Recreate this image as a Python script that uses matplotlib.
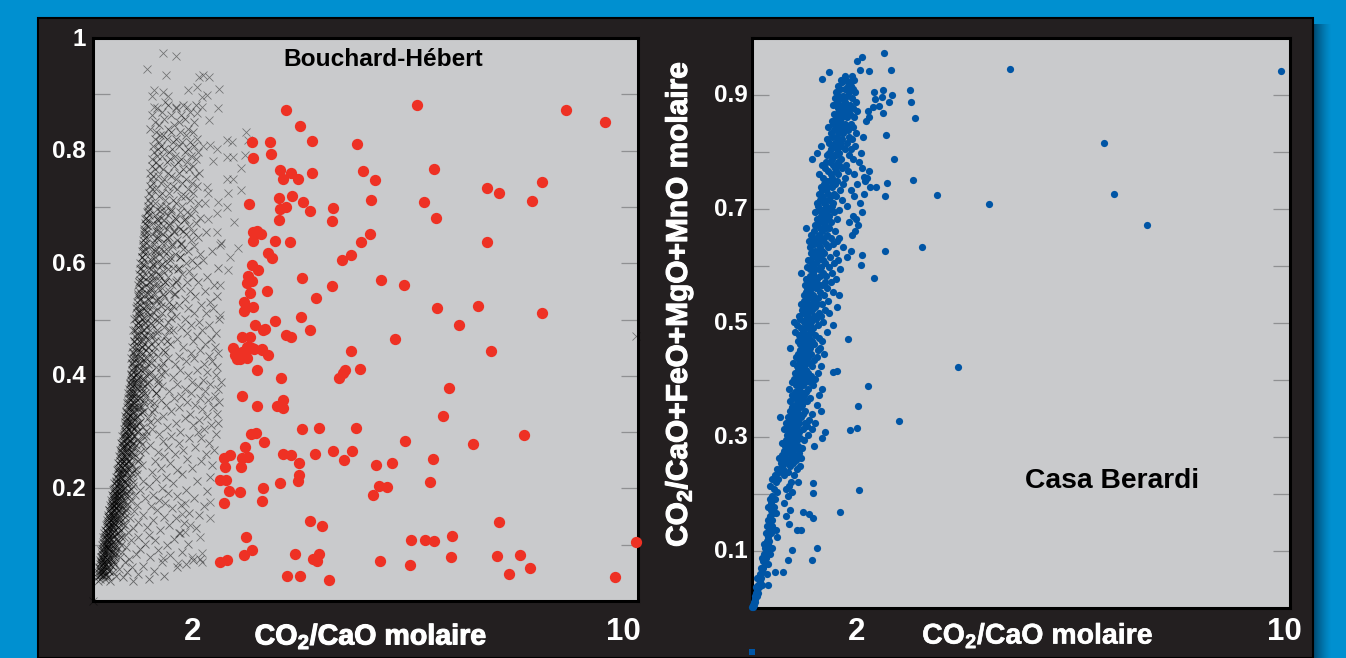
import matplotlib
matplotlib.use('Agg')
import matplotlib.pyplot as plt
from matplotlib.patches import Rectangle
from matplotlib.transforms import ScaledTranslation
import matplotlib.patheffects as pe

# ================= data =================
# Bouchard-Hebert, red dots
red_x = [3.55, 3.79, 4.01, 2.91, 3.24, 2.93, 3.27, 3.44, 3.48, 3.64, 3.76, 4.02, 2.86, 3.42, 3.65, 3.85, 3.98, 3.44, 3.55, 3.42,
         4.40, 4.39, 5.11, 6.08, 6.30, 4.84, 4.95, 5.18, 6.25, 7.23, 7.45, 8.24, 8.06, 5.95, 8.68, 9.40,
         2.93, 3.08, 2.93, 3.00, 3.34, 3.61, 3.21, 3.28, 2.92, 3.03, 2.84, 2.92, 2.82, 3.83, 4.39, 3.19, 2.88, 4.09, 2.77, 2.94, 2.77,
         3.82, 3.34, 2.97, 3.16, 3.99, 2.73, 2.88, 3.12, 3.64, 3.55, 2.92, 3.10, 3.21, 2.57, 2.73, 2.82, 2.84, 2.60, 2.95, 3.10, 2.70, 2.64, 2.83, 3.00,
         5.09, 4.91, 4.74, 4.56, 7.23, 5.29, 5.70, 6.32, 7.07, 8.24, 6.72, 5.55, 7.31, 4.73,
         3.45, 4.51, 4.62, 4.89, 4.58, 6.54, 2.73, 3.01, 3.38, 3.49, 3.48, 6.43,
         3.84, 4.15, 4.82, 2.90, 2.99, 3.14, 2.79, 2.84, 2.73, 2.51, 2.40, 3.49, 3.64, 4.07, 4.40, 4.61, 4.76,
         5.73, 7.91, 6.98, 3.78, 2.72, 2.43, 3.78, 3.76, 3.43, 2.33, 2.44, 3.12, 3.10, 2.50, 2.70, 2.40,
         5.20, 5.49, 6.23, 6.19, 5.24, 5.40, 5.13, 3.98, 4.20, 7.45,
         2.81, 2.92, 2.77, 2.33, 2.46, 3.71, 4.15, 4.04, 4.11, 6.10, 5.84, 6.25, 6.58, 9.96,
         5.27, 5.81, 6.56, 7.42, 7.84, 8.02, 7.64, 9.58, 3.56, 3.80, 4.33]
red_y = [.872, .844, .817, .815, .815, .787, .794, .765, .749, .761, .749, .761, .705, .716, .719, .709, .693, .696, .700, .677,
         .698, .675, .712, .708, .681, .812, .763, .747, .768, .733, .724, .745, .710, .881, .873, .850,
         .655, .652, .639, .657, .639, .637, .618, .609, .597, .588, .578, .569, .565, .573, .560, .551, .547, .539, .531, .522, .515,
         .504, .497, .490, .484, .481, .469, .469, .482, .469, .472, .449, .448, .437, .449, .442, .452, .447, .437, .448, .446, .429, .429, .432, .410,
         .652, .637, .614, .605, .637, .570, .561, .520, .524, .512, .490, .465, .444, .444,
         .396, .396, .411, .412, .405, .379, .364, .347, .346, .357, .343, .329,
         .306, .308, .308, .297, .298, .283, .274, .256, .254, .259, .254, .261, .259, .261, .266, .250, .267,
         .285, .294, .278, .245, .238, .238, .224, .214, .209, .215, .215, .200, .178, .195, .194, .174,
         .241, .246, .253, .211, .204, .202, .188, .142, .133, .140,
         .114, .091, .081, .069, .073, .083, .083, .074, .071, .108, .108, .106, .115, .105,
         .071, .064, .078, .080, .081, .058, .048, .042, .044, .044, .037]

# black crosses: one y level, the x readings at that level
cross_levels = [
    .036, .039, .042, .045, .048, .051, .054, .057, .060, .063, .066, .069, .072, .075, .078, .081, .084, .087, .090, .093,
    .096, .099, .102, .105, .108, .111, .114, .117, .120, .123, .126, .129, .132, .135, .138, .141, .144, .147, .150, .153,
    .156, .159, .162, .165, .168, .171, .174, .177, .180, .183, .186, .189, .192, .195, .198, .201, .205, .209, .213, .217,
    .221, .225, .229, .233, .237, .241, .245, .249, .253, .257, .261, .265, .269, .273, .277, .281, .285, .289, .293, .297,
    .301, .305, .309, .313, .317, .321, .325, .329, .333, .337, .341, .345, .349, .353, .357, .361, .365, .369, .373, .377,
    .381, .385, .389, .393, .397, .401, .406, .411, .416, .421, .426, .431, .436, .441, .446, .451, .456, .461, .466, .471,
    .476, .481, .486, .491, .496, .501, .506, .511, .516, .521, .526, .531, .536, .541, .546, .551, .556, .561, .566, .571,
    .576, .581, .586, .591, .596, .601, .606, .611, .616, .621, .626, .631, .636, .641, .646, .651, .656, .661, .666, .671,
    .676, .681, .686, .691, .696, .701, .707, .713, .719, .725, .731, .737, .743, .749, .755, .761, .767, .773, .779, .785,
    .791, .797, .803, .809, .815, .821, .827, .833, .839, .845, .851, .857, .863, .869, .875, .881,
]
cross_x_rows = [
    [.09, .31, .74], [.13, .22, 1.02], [.08, .27, .55], [.11, .19, .43, 1.31], [.14, .24, .83], [.10, .17, .36, .62], [.12, .29, 1.12], [.16, .21, .48], [.11, .26, .71, 1.55], [.18, .34, .92],
    [.13, .23, .41, 1.71], [.15, .20, .58, 1.27], [.12, .28, .37, 1.84], [.17, .25, .66, 1.96], [.14, .31, .49, 1.05], [.19, .22, .40, 1.42], [.16, .27, .78], [.21, .35, .54, 1.63], [.15, .24, .44, 1.20], [.18, .30, .87],
    [.20, .26, .39, .61], [.17, .33, .52, 1.36], [.23, .29, .95, 1.74], [.19, .37, .47], [.21, .27, .70, 1.14], [.25, .34, .43, 1.48], [.18, .30, .56, .82], [.23, .38, 1.03], [.20, .28, .46, 1.58], [.26, .33, .64],
    [.22, .41, .51, 1.23], [.25, .31, .74, 1.89], [.28, .36, .45, .99], [.23, .34, .59, 1.40], [.27, .39, .48, 1.67], [.30, .35, .83], [.25, .43, .54, 1.11], [.29, .37, .68, 1.52], [.32, .41, .50, 1.30], [.27, .36, .91, 1.94],
    [.31, .44, .57, 1.77], [.34, .39, .75], [.29, .47, .53, 1.18], [.33, .42, .62, 1.45], [.36, .38, .50, 1.06, 2.04], [.31, .45, .80, 1.61], [.35, .41, .56, 1.33], [.38, .48, .69], [.33, .43, .53, 1.22], [.37, .46, .96, 1.85],
    [.40, .51, .60, 1.54], [.35, .44, .77, 1.10], [.39, .49, .55, 1.38], [.42, .47, .66, 2.09], [.37, .53, .86, 1.70], [.41, .50, .58, 1.26], [.44, .54, .73, 1.02], [.39, .48, .63, 1.47], [.43, .57, .92, 1.90], [.46, .52, .60, 1.16],
    [.42, .51, .69, 1.34, 2.14], [.45, .56, .81, 1.64], [.48, .54, .62, 1.08], [.44, .59, .75, 1.55], [.47, .53, .66, 1.24, 1.81], [.50, .57, .90, 2.18], [.46, .61, .70, 1.41], [.49, .55, .64, 1.13, 1.98], [.52, .60, .84, 1.72], [.48, .58, .67, 1.31],
    [.51, .63, .76, 1.50, 2.07], [.54, .59, .71, 1.19], [.50, .62, .95, 1.66, 2.22], [.53, .57, .69, 1.37, 1.88], [.56, .65, .79, 1.04], [.52, .61, .73, 1.57, 2.12], [.55, .68, .87, 1.28], [.58, .63, .74, 1.77, 1.99], [.54, .66, .98, 1.44], [.57, .60, .71, 1.21, 2.25],
    [.59, .69, .80, 1.60, 1.92], [.56, .64, .75, 1.09, 2.03], [.61, .72, .92, 1.35], [.58, .67, .78, 1.83, 2.16], [.62, .70, .84, 1.52, 2.30], [.60, .65, .76, 1.17, 1.95], [.63, .73, 1.00, 1.68], [.59, .68, .81, 1.29, 2.09], [.64, .71, .87, 1.78, 2.27], [.61, .75, .94, 1.43],
    [.66, .69, .82, 1.12, 2.00], [.63, .77, .90, 1.58, 2.20], [.67, .72, .85, 1.34, 1.87], [.64, .74, 1.05, 1.73, 2.32], [.68, .80, .93, 1.25, 2.11], [.65, .71, .84, 1.49, 1.97], [.69, .76, .98, 1.62, 2.24], [.67, .79, .88, 1.15, 1.80], [.70, .73, .91, 1.39, 2.05], [.66, .82, 1.08, 1.69, 2.30],
    [.71, .77, .95, 1.27, 1.93], [.68, .84, .89, 1.54, 2.15], [.72, .75, 1.02, 1.82, 2.34], [.70, .80, .92, 1.20, 2.01], [.73, .86, 1.12, 1.46], [.69, .78, .97, 1.75, 2.25], [.74, .83, 1.06, 1.33, 2.10], [.71, .88, .94, 1.60, 1.90], [.75, .81, 1.16, 1.24, 2.28], [.72, .85, 1.00, 1.51, 2.03],
    [.76, .90, .96, 1.71, 2.19], [.70, .79, 1.09, 1.37, 1.86], [.77, .87, 1.20, 1.57, 2.12], [.74, .92, 1.03, 1.79, 2.30], [.78, .83, .98, 1.29, 1.96], [.72, .89, 1.14, 1.66, 2.23], [.79, .94, 1.06, 1.42, 2.06], [.75, .85, 1.25, 1.84], [.80, .91, 1.00, 1.55, 2.17], [.77, .96, 1.11, 1.33, 1.91],
    [.81, .88, 1.18, 1.73, 2.26], [.74, .93, 1.04, 1.47, 2.00], [.82, .98, 1.30, 1.62], [.78, .86, 1.08, 1.80, 2.13], [.83, .95, 1.21, 1.38, 1.94], [.76, .90, 1.13, 1.69, 2.32], [.84, 1.00, 1.06, 1.52], [.80, .87, 1.26, 1.85, 2.08], [.85, .97, 1.16, 1.43], [.79, .92, 1.35, 1.75, 2.21],
    [.86, 1.03, 1.10, 1.58, 1.98], [.81, .94, 1.23, 1.40, 2.15], [.87, 1.00, 1.19, 1.68], [.83, 1.06, 1.31, 1.88, 2.27], [.88, .96, 1.14, 1.49], [.85, 1.02, 1.40, 1.78, 2.05], [.89, 1.09, 1.26, 1.61], [.82, .98, 1.17, 1.45, 2.22], [.90, 1.05, 1.33, 1.72, 1.92], [.86, 1.12, 1.22, 1.55],
    [.91, 1.00, 1.38, 1.84, 2.10], [.84, 1.07, 1.20, 1.64], [.92, 1.15, 1.29, 1.76], [.88, 1.03, 1.47, 1.58, 2.30], [.93, 1.10, 1.25, 1.90], [.87, 1.18, 1.35, 1.70], [.94, 1.06, 1.42, 1.82, 2.02], [.90, 1.13, 1.28, 1.59], [.95, 1.21, 1.51, 1.96], [.89, 1.09, 1.37, 1.74, 2.18],
    [.96, 1.16, 1.24, 1.66], [.92, 1.04, 1.45, 1.86], [.97, 1.26, 1.32, 1.62, 2.34], [.91, 1.12, 1.54, 1.79], [.98, 1.19, 1.39, 1.93], [.94, 1.08, 1.29, 1.71], [.99, 1.23, 1.48, 1.84, 2.08], [.93, 1.15, 1.35, 1.60], [1.00, 1.28, 1.56, 1.76], [.96, 1.11, 1.42, 1.89],
    [1.01, 1.20, 1.31, 1.67], [.97, 1.24, 1.50, 1.97], [1.02, 1.14, 1.38, 1.80], [.99, 1.30, 1.59, 1.72], [1.03, 1.18, 1.44, 1.86], [1.00, 1.25, 1.34, 1.64], [1.05, 1.13, 1.53, 1.92], [1.01, 1.33, 1.47, 1.78], [1.07, 1.21, 1.61, 1.69], [1.03, 1.27, 1.40, 1.83],
    [1.08, 1.16, 1.55, 1.74], [1.04, 1.36, 1.46, 1.90], [1.10, 1.24, 1.63, 1.81], [1.06, 1.31, 1.52, 1.70], [1.11, 1.19, 1.43, 1.87], [1.05, 1.38, 1.58, 1.94], [1.13, 1.28, 1.66, 1.77], [1.08, 1.22, 1.49, 1.84], [1.15, 1.35, 1.56, 1.72], [1.09, 1.42, 1.62, 1.89],
    [1.17, 1.26, 1.51, 1.80], [1.12, 1.39, 1.68, 1.93], [1.19, 1.31, 1.45, 1.75], [1.10, 1.24, 1.57, 1.86], [1.21, 1.47, 1.64, 1.78], [1.14, 1.36, 1.53, 1.90], [1.23, 1.29, 1.70], [1.16, 1.43, 1.60, 1.83],
    [1.05, 1.37, 1.74], [1.22, 1.49], [1.13, 1.58, 1.86], [1.31, 1.69], [1.09, 1.44, 1.62], [1.26, 1.78], [1.18, 1.53], [1.38, 1.66, 1.89],
]
# the darker wedge of the cloud, second pass of readings
core_levels = [
    .047, .053, .058, .064, .069, .074, .079, .085, .091, .096, .102, .108, .113, .119, .124, .131, .137, .143, .149, .154,
    .161, .167, .173, .179, .186, .192, .199, .206, .212, .219, .227, .234, .241, .249, .256, .264, .271, .278, .286, .293,
    .302, .311, .318, .327, .335, .344, .352, .361, .369, .378, .387, .396, .404, .413, .423, .432, .442, .451, .461, .472,
    .482, .493, .503, .514, .524, .534, .545, .556, .566, .577, .589, .599, .611, .622, .634, .645, .657, .668, .679, .692,
]
core_x_rows = [
    [.12, .18, .24], [.15, .21, .29], [.11, .19, .26], [.17, .23, .33], [.14, .20, .28, .36], [.18, .25, .31], [.16, .22, .38], [.21, .27, .34, .41], [.19, .30, .36], [.23, .28, .43],
    [.20, .26, .33, .40], [.25, .31, .46], [.22, .29, .37, .52], [.27, .35, .42], [.24, .32, .39, .49], [.29, .36, .45], [.26, .34, .41, .55], [.31, .38, .47], [.28, .37, .44, .58], [.33, .40, .51],
    [.30, .39, .46, .61], [.35, .43, .53], [.34, .42, .49, .63], [.38, .45, .57], [.36, .44, .52, .66], [.41, .48, .60], [.39, .47, .55, .70], [.43, .50, .62], [.42, .49, .58, .74], [.45, .54, .66],
    [.47, .53, .61, .72], [.46, .56, .64, .78], [.50, .58, .69], [.49, .57, .66, .82], [.53, .60, .73], [.52, .62, .70, .86], [.55, .64, .76], [.54, .63, .72, .89], [.58, .67, .80], [.57, .66, .75, .92],
    [.60, .69, .83, .98], [.62, .71, .79], [.59, .68, .86, 1.04], [.64, .73, .81], [.61, .72, .90, 1.08], [.66, .76, .84], [.63, .75, .93, 1.12], [.68, .78, .87], [.65, .74, .96, 1.16], [.70, .80, .89],
    [.67, .79, .99, 1.20], [.72, .82, .92], [.69, .81, 1.02, 1.25], [.74, .85, .95], [.71, .84, 1.06, 1.28], [.76, .88, .98], [.73, .86, 1.10, 1.32], [.78, .90, 1.00], [.75, .89, 1.13, 1.36], [.80, .93, 1.04],
    [.77, .91, 1.17, 1.40], [.82, .96, 1.07], [.79, .94, 1.21, 1.44], [.84, .99, 1.11], [.81, .97, 1.25, 1.47], [.86, 1.02, 1.15], [.83, 1.00, 1.29, 1.50], [.88, 1.05, 1.19], [.85, 1.03, 1.33, 1.53], [.90, 1.08, 1.23],
    [.87, 1.06, 1.37, 1.56], [.92, 1.11, 1.27], [.89, 1.09, 1.41, 1.59], [.94, 1.14, 1.31], [.91, 1.12, 1.45, 1.62], [.96, 1.17, 1.35], [.93, 1.15, 1.49, 1.65], [.98, 1.20, 1.39], [.95, 1.18, 1.53, 1.68], [1.00, 1.23, 1.43],
]
# single crosses read one by one at the edge of the cloud
cross_edge_x = [1.28, 1.52, .99, 1.34, 1.94, 2.02, 2.13, 1.12, 1.08, 1.28, 1.38, 1.74, 1.91, 2.31, 2.00, 2.09, 1.12, 1.32, 1.52, 1.72, 2.00, 2.29, 1.91, 2.13,
                2.81, 2.46, 2.55, 2.84, 2.02, 2.15, 2.28, 2.46, 2.57, 2.79, 2.20, 2.72, 2.46, 2.57, 2.09, 2.11, 2.48, 2.72, 2.06, 2.29, 2.46, 2.11, 2.28, 2.59,
                2.28, 2.33, 2.66, 2.51, 2.48, 2.33, 2.33, 1.69, 1.63, 1.78, 2.15, 2.15, 1.60, 1.69, 1.96, 1.82, 2.00, 2.00, 1.56, 1.28, 9.97, 0.0]
cross_edge_y = [.973, .968, .945, .934, .931, .934, .931, .908, .897, .904, .897, .908, .913, .909, .895, .899, .877, .886, .877, .877, .877, .876, .867, .854,
                .833, .819, .815, .819, .808, .810, .803, .789, .789, .792, .782, .769, .750, .750, .735, .725, .725, .730, .707, .709, .700, .678, .689, .673,
                .655, .632, .627, .611, .588, .561, .508, .174, .155, .135, .176, .147, .121, .123, .114, .078, .085, .069, .067, .076, .470, .0]

# Casa Berardi, blue dots
blue_levels = [
    .002, .006, .011, .016, .021, .026, .031, .036, .041, .047, .053, .059, .064, .071, .077, .083, .088, .094, .101, .106,
    .113, .118, .124, .131, .136, .143, .148, .154, .161, .167, .172, .178, .185, .191, .197, .203, .209, .214, .221, .227,
    .233, .238, .244, .249, .254, .259, .263, .268, .272, .276, .281, .285, .289, .294, .299, .304, .309, .314, .319, .324,
    .329, .335, .341, .346, .352, .357, .363, .368, .374, .379, .385, .391, .396, .402, .407, .413, .418, .424, .429, .435,
    .441, .446, .452, .457, .463, .469, .474, .479, .485, .491, .496, .502, .507, .512, .517, .523, .528, .533, .539, .544,
    .549, .555, .561, .566, .572, .577, .583, .588, .594, .599, .605, .611, .616, .622, .627, .633, .638, .644, .649, .655,
    .661, .666, .672, .677, .683, .688, .694, .699, .705, .711, .716, .722, .727, .733, .738, .744, .749, .755, .761, .766,
    .772, .777, .783, .788, .794, .799, .805, .811, .816, .822, .827, .833, .838, .844, .849, .855, .861, .866, .872, .877,
    .883, .888, .894, .899, .905, .911, .916, .922, .927, .933,
]
blue_x_rows = [
    [.00, .02], [.03, .01], [.05, .03], [.06], [.09, .05], [.07, .11], [.10], [.13, .08], [.12, .19, .30], [.14], [.17, .10], [.15, .27], [.19, .42], [.21, .16], [.24, .30], [.20], [.26, .18], [.23, .33], [.28], [.25, .37],
    [.22, .30], [.32, .27], [.29, .46], [.35, .26], [.31, .44], [.28, .38], [.34, .68], [.37, .30], [.33, .64], [.39, .45], [.36, .71], [.30, .41], [.35, .60], [.43, .33], [.38, .66], [.46, .75], [.41, .63], [.34, .69], [.44, .86, .72], [.48, .38],
    [.42, .60, .78], [.51, .66], [.47, .58, .84], [.55, .70, .90], [.53, .62, .76], [.58, .67, .82], [.50, .72, .91], [.61, .56, .78, .85], [.64, .71, .88], [.59, .75, .69], [.66, .81, .93], [.62, .73, .86, 1.16], [.68, .78, .56], [.63, .70, .84, .97], [.71, .76, .90, 1.30], [.65, .80, 1.05, .73], [.69, .75, .87, 1.36], [.60, .78, .94, 1.12], [.72, .83, .67, 1.02], [.64, .77, .88, .98, 1.18],
    [.74, .81, 1.06, .70], [.52, .79, .91, .66], [.76, .86, 1.12, .95], [.71, .83, .99, 1.28], [.78, .89, .74], [.80, .93, 1.20, .86], [.70, .85, 1.02, .97], [.82, .91, 1.08, .77], [.75, .88, .96, 1.25], [.84, 1.00, .79, .92],
    [.68, .87, 1.04, 1.30], [.81, .95, 1.14, .90], [.85, .99, .74, 1.07], [.78, .92, 1.02, 1.18], [.88, .97, 1.10, .83], [.80, .94, 1.22, 1.05], [.90, 1.01, .86, .98], [.84, .96, 1.12, 1.28], [.76, .93, 1.06, .89], [.87, 1.00, 1.15, .95],
    [.92, 1.04, 1.20, .82], [.86, .98, 1.10, 1.34], [.94, 1.02, .90, 1.22], [.70, .96, 1.08, 1.26], [.89, 1.00, 1.16, 1.04], [.93, 1.12, .85, 1.30], [.97, 1.06, 1.24, .91], [.88, 1.02, 1.18, .99], [.95, 1.09, 1.40, .80], [.99, 1.14, 1.05, .92],
    [.84, 1.03, 1.22, 1.50], [.96, 1.10, .78, 1.32], [.90, 1.07, 1.19, 1.00], [1.02, 1.15, .88, 1.28], [.94, 1.05, 1.24, 1.44], [.98, 1.12, .93, 1.36], [1.06, 1.18, 1.01, 1.58], [.91, 1.09, 1.30, 1.21], [1.00, 1.16, 1.42, .96], [1.04, 1.22, 1.11],
    [.97, 1.14, 1.62, 1.34], [1.08, 1.26, 1.01, 1.50], [1.02, 1.19, 1.10, 1.40], [1.12, 1.30, .98, 1.24], [1.05, 1.17, 1.46, 1.35], [1.00, 1.21, 1.56, 1.10], [1.15, 1.27, 1.08, 1.38], [.92, 1.13, 1.32, 1.48], [1.07, 1.24, 1.64, 1.18], [1.10, 1.29, 1.03, 1.44],
    [1.19, 1.36, 1.52, 1.12], [1.05, 1.22, 1.32, 1.60], [1.14, 1.27, 1.45, 1.76], [1.09, 1.34, 1.20, 1.56], [1.17, 1.30, 1.24, 1.84], [1.08, 1.26, 1.42, 1.70], [1.22, 1.37, 1.16, 1.50], [1.13, 1.29, 1.58, 1.06], [1.19, 1.33, 1.46, 1.62], [1.24, 1.40, 1.10, 1.86],
    [1.16, 1.31, 1.54, 1.92], [1.00, 1.27, 1.43, 1.38], [1.21, 1.35, 1.18, 1.97], [1.25, 1.47, 1.32, 1.80], [1.20, 1.39, 1.58, 1.94], [1.28, 1.44, 1.33, 1.88], [1.18, 1.36, 1.52, 2.04], [1.30, 1.41, 1.62, 1.25], [1.23, 1.38, 1.48, 1.76], [1.34, 1.50, 1.20, 2.00],
    [1.26, 1.44, 1.68, 1.36], [1.31, 1.46, 1.90, 1.56], [1.24, 1.42, 1.52, 2.08], [1.37, 1.64, 1.30, 1.84], [1.28, 1.49, 1.40, 2.20], [1.33, 1.54, 1.70, 1.96], [1.40, 1.58, 1.45, 2.10], [1.32, 1.48, 1.72, 2.14], [1.25, 1.46, 1.60, 1.90], [1.42, 1.56, 1.78, 2.18],
    [1.35, 1.54, 1.68, 2.04], [1.30, 1.50, 1.62, 1.74], [1.45, 1.60, 1.98, 1.38], [1.12, 1.48, 1.66, 1.88], [1.39, 1.56, 1.52, 1.80], [1.20, 1.44, 1.62, 2.02], [1.47, 1.58, 1.72, 1.84], [1.28, 1.51, 1.66, 1.92], [1.44, 1.64, 1.54, 1.76], [1.40, 1.60, 1.68, 1.86],
    [1.49, 1.57, 1.80, 2.06], [1.46, 1.70, 1.62, 1.94], [1.52, 1.66, 1.78, 1.58], [1.42, 1.60, 1.74, 1.88], [1.50, 1.72, 1.66, 1.84], [1.48, 1.63, 1.58, 2.12], [1.56, 1.76, 1.68, 1.90], [1.53, 1.70, 1.62, 1.82], [1.62, 1.78, 1.96, 1.72], [1.60, 1.74, 1.88, 1.66],
    [1.50, 1.68, 1.82], [1.58, 1.72, 1.94], [1.54, 1.66, 1.86], [1.62, 1.76, 1.70], [1.57, 1.80, 1.92], [1.64, 1.73, 1.88], [1.60, 1.78, 1.84], [1.68, 1.82], [1.66, 1.90, 1.75], [1.72, 1.86],
]
blue_edge_x = [2.45, 2.04, 1.95, 2.01, 2.17, 2.58, 1.43, 1.30, 2.94, 2.96, 3.03, 2.43, 2.27, 2.60, 2.42, 2.55, 2.29, 2.25, 2.36, 2.43, 2.17, 2.16,
               2.49, 2.64, 2.99, 3.44, 2.51, 2.47, 2.30, 3.16, 2.47, 2.27, 2.08, 2.04, 2.03, 4.80, 6.54, 6.73, 7.34, 4.41, 3.83, 9.83,
               2.16, 1.97, 2.73, 1.95, 1.82, 1.99, 1.64, 1.21, 1.12, .67, .74, .58, 1.13, 1.13, 1.13, 1.06, .95, .91, .84, 1.78, 1.58, 1.51]
blue_edge_y = [.974, .967, .960, .944, .942, .944, .940, .928, .909, .888, .860, .909, .905, .900, .896, .888, .893, .879, .881, .868, .861, .872,
               .830, .788, .751, .725, .746, .723, .739, .633, .626, .579, .756, .619, .602, .946, .816, .726, .672, .709, .423, .942,
               .389, .354, .328, .316, .312, .207, .168, .105, .084, .084, .102, .063, .202, .219, .158, .165, .168, .137, .137, .472, .416, .414]
blue_below_x = [0.0]
blue_below_y = [-0.077]

left_ticks = [.1, .2, .3, .4, .5, .6, .7, .8, .9, 1.0]
left_ticklabels = ['', '0.2', '', '0.4', '', '0.6', '', '0.8', '', '1']
right_ticks = [.1, .2, .3, .4, .5, .6, .7, .8, .9]
right_ticklabels = ['0.1', '', '0.3', '', '0.5', '', '0.7', '', '0.9']

# ================= layout =================
W, H = 1346, 658
BLUE_BG = '#0090d0'
PANEL = '#231f20'
GRAY = '#c9cacc'


def px_rect(x0, y0, x1, y1):
    return [x0 / W, 1 - y1 / H, (x1 - x0) / W, (y1 - y0) / H]


def fig_text(x, y, s, **kw):
    # x, y in image pixels
    return fig.text(x / W, 1 - y / H, s, **kw)


def flatten(levels, rows):
    xs, ys = [], []
    for level, row in zip(levels, rows):
        xs.extend(row)
        ys.extend([level] * len(row))
    return xs, ys


plt.rcParams['font.family'] = ['Liberation Sans', 'DejaVu Sans']
plt.rcParams['font.weight'] = 'bold'
plt.rcParams['mathtext.default'] = 'regular'

fig = plt.figure(figsize=(W / 100, H / 100), dpi=100, facecolor=BLUE_BG)

# shadow on the right of the dark panel, then the panel itself (behind the axes)
for i in range(18):
    x0 = 1313 + i
    fig.add_artist(Rectangle((x0 / W, 0), 1 / W, 1 - 24 / H, transform=fig.transFigure,
                             color='#003a5c', alpha=0.85 * (1 - i / 18) ** 1.3, lw=0, zorder=-3))
fig.add_artist(Rectangle((38 / W, 0), (1313 - 38) / W, 1 - 18 / H, transform=fig.transFigure,
                         facecolor=PANEL, edgecolor='black', lw=1.5, zorder=-2))

ax1 = fig.add_axes(px_rect(93, 38, 638, 601), facecolor=GRAY)
ax2 = fig.add_axes(px_rect(752, 38, 1290, 608), facecolor=GRAY)

for ax in (ax1, ax2):
    ax.set_xlim(0, 10)
    ax.set_ylim(0, 1)
    ax.set_xticks([])
    ax.tick_params(axis='y', which='major', direction='in', length=12.2, width=0.9, color='#8f9092',
                   left=True, right=True, labelcolor='white', labelsize=17.5)
    for side in ax.spines:
        ax.spines[side].set_color('black')
        ax.spines[side].set_linewidth(2.2)

ax1.set_yticks(left_ticks, left_ticklabels)
ax1.tick_params(axis='y', pad=5)
ax2.set_yticks(right_ticks, right_ticklabels)
ax2.tick_params(axis='y', pad=3)
# labels sit a little above their ticks in the original
for ax in (ax1, ax2):
    for label in ax.get_yticklabels():
        label.set_transform(label.get_transform() + ScaledTranslation(0, 1.5 / 100, fig.dpi_scale_trans))

# ================= marks =================
cross_x, cross_y = flatten(cross_levels, cross_x_rows)
core_x, core_y = flatten(core_levels, core_x_rows)
ax1.scatter(cross_x, cross_y, marker='x', s=33, color='black', alpha=0.5, linewidths=0.6, zorder=3)
ax1.scatter(core_x, core_y, marker='x', s=33, color='black', alpha=0.55, linewidths=0.65, zorder=3)
ax1.scatter(cross_edge_x, cross_edge_y, marker='x', s=33, color='black', alpha=0.45, linewidths=0.55,
            zorder=3, clip_on=False)
ax1.scatter(red_x, red_y, s=66, color='#ee3124', linewidths=0, zorder=4, clip_on=False)

blue_x, blue_y = flatten(blue_levels, blue_x_rows)
ax2.scatter(blue_x, blue_y, s=27, color='#0055a5', linewidths=0, zorder=3, clip_on=False)
ax2.scatter(blue_edge_x, blue_edge_y, s=27, color='#0055a5', linewidths=0, zorder=3, clip_on=False)
ax2.scatter(blue_below_x, blue_below_y, s=18, marker='s', color='#0055a5', linewidths=0, clip_on=False)

# ================= text =================
thick = [pe.withStroke(linewidth=0.8, foreground='white')]
thin = [pe.withStroke(linewidth=0.4, foreground='white')]
for x, s in [(193, '2'), (623, '10'), (857, '2'), (1284, '10')]:
    fig_text(x, 632, s, color='white', fontsize=22.5, ha='center', va='center')
fig_text(371, 636, 'CO$_2$/CaO molaire', color='white', fontsize=20.6, ha='center', va='center', path_effects=thick)
fig_text(1038, 636, 'CO$_2$/CaO molaire', color='white', fontsize=20.5, ha='center', va='center', path_effects=thin)
fig_text(679, 304, 'CO$_2$/CaO+FeO+MgO+MnO molaire', color='white', fontsize=21.5, rotation=90, ha='center', va='center',
         path_effects=thick)
fig_text(383, 60, 'Bouchard-Hébert', color='black', fontsize=17.6, ha='center', va='center')
fig_text(1112, 481, 'Casa Berardi', color='black', fontsize=20.3, ha='center', va='center')

fig.savefig('out.png', dpi=100, facecolor=fig.get_facecolor())
